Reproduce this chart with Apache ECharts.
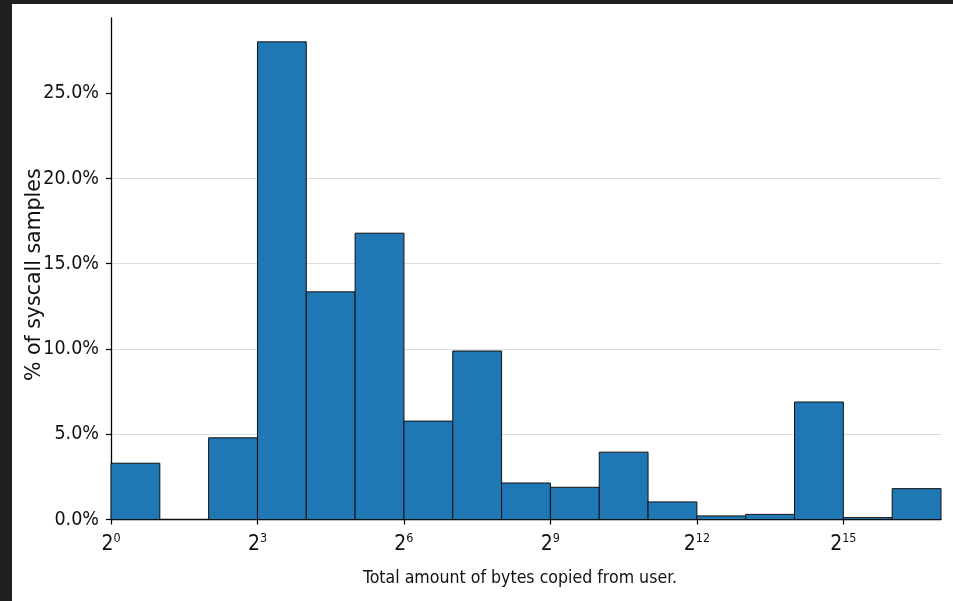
<!DOCTYPE html>
<html><head><meta charset="utf-8">
<script src="https://cdn.jsdelivr.net/npm/echarts@6/dist/echarts.min.js"></script>
<style>
html,body{margin:0;padding:0;background:#1f1f1f;width:953px;height:601px;overflow:hidden}
#c{position:absolute;left:12px;top:4px;width:941px;height:597px;background:#fff}
</style>
</head><body><div id="c"></div>
<script>
// Histogram bins: each bin spans [2^lo, 2^(lo+1))
const binLowExponents = [0,1,2,3,4,5,6,7,8,9,10,11,12,13,14,15,16];
const percentages = [3.30,0,4.79,28.01,13.35,16.79,5.77,9.88,2.14,1.89,3.95,1.03,0.21,0.30,6.89,0.11,1.81];
const xTickExponents = [0,3,6,9,12,15];
const yTickValues = [0,5,10,15,20,25];
const xTitle = 'Total amount of bytes copied from user.';
const yTitle = '% of syscall samples';

const tickFont = '"DejaVu Sans Condensed","Liberation Sans Narrow","DejaVu Sans",sans-serif';
const data = binLowExponents.map((e, i) => [e, e + 1, percentages[i]]);

const chart = echarts.init(document.getElementById('c'), null, {renderer: 'canvas'});
chart.setOption({
  backgroundColor: '#ffffff',
  animation: false,
  grid: {left: 99, right: 12, top: 14, bottom: 81.5, containLabel: false, outerBoundsMode: 'none'},
  xAxis: {
    type: 'value', min: 0, max: 17, interval: 3,
    axisLine: {show: true, onZero: false, lineStyle: {color: '#000', width: 1.3}},
    axisTick: {show: true, length: 5, customValues: xTickExponents, lineStyle: {color: '#000', width: 1.2}},
    splitLine: {show: false},
    axisLabel: {
      customValues: xTickExponents, margin: 13,
      formatter: v => '{b|2}{s|' + v + '}',
      rich: {
        b: {fontFamily: tickFont, fontSize: 21, color: '#111', lineHeight: 24},
        s: {fontFamily: tickFont, fontSize: 12.5, color: '#111', lineHeight: 13, verticalAlign: 'top'}
      }
    },
    name: xTitle, nameLocation: 'middle', nameGap: 50, nameMoveOverlap: false,
    nameTextStyle: {fontFamily: tickFont, fontSize: 17.6, color: '#111', padding: [0, 12, 0, 0]}
  },
  yAxis: {
    type: 'value', min: 0, max: 29.41, interval: 5,
    axisLine: {show: true, lineStyle: {color: '#000', width: 1.3}},
    axisTick: {show: true, length: 5, customValues: yTickValues, lineStyle: {color: '#000', width: 1.2}},
    splitLine: {show: true, showMaxLine: false, showMinLine: false, lineStyle: {color: '#dddddd', width: 1}},
    axisLabel: {
      customValues: yTickValues, margin: 12,
      formatter: v => v.toFixed(1) + '%',
      fontFamily: tickFont, fontSize: 19.5, color: '#111'
    },
    name: yTitle, nameLocation: 'middle', nameGap: 66, nameRotate: 90, nameMoveOverlap: false,
    nameTextStyle: {fontFamily: '"DejaVu Sans",sans-serif', fontSize: 20.5, color: '#111', padding: [0, 12, 0, 0]}
  },
  series: [{
    type: 'custom',
    data: data,
    encode: {x: [0, 1], y: 2},
    renderItem: function (params, api) {
      const lo = api.value(0), hi = api.value(1), v = api.value(2);
      const p0 = api.coord([lo, 0]);
      const p1 = api.coord([hi, v]);
      return {
        type: 'rect',
        shape: {x: p0[0], y: p1[1], width: p1[0] - p0[0], height: p0[1] - p1[1]},
        style: {fill: '#1f77b4', stroke: '#111', lineWidth: 1}
      };
    }
  }]
});
</script>
</body></html>
